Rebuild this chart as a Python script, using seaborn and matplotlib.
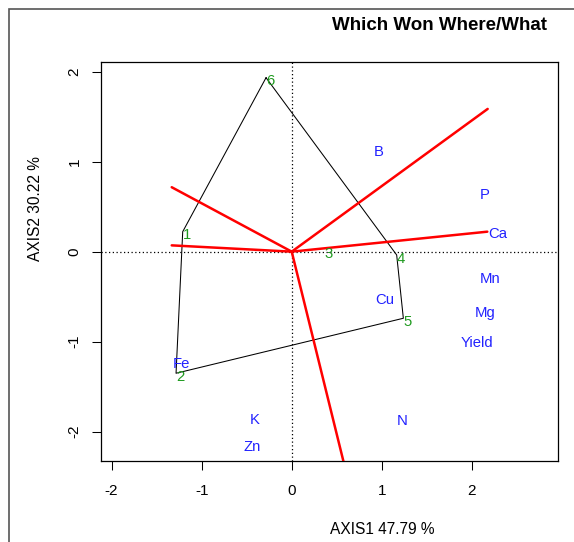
import matplotlib
matplotlib.use("Agg")
import matplotlib.pyplot as plt
from matplotlib.patches import Rectangle
import numpy as np
import pandas as pd
import seaborn as sns

# Genotype scores (polygon vertices / entries)
genotypes = ["1", "2", "3", "4", "5", "6"]
gen_x = [-1.21, -1.284, 0.36, 1.165, 1.239, -0.285]
gen_y = [0.222, -1.351, 0.01, -0.037, -0.74, 1.933]

# Vertex order of the convex hull
hull_order = ["6", "4", "5", "2", "1", "6"]

# Environment / trait scores
envs = ["B", "P", "Ca", "Mn", "Mg", "Yield", "Cu", "N", "Fe", "K", "Zn"]
env_x = [0.968, 2.145, 2.286, 2.201, 2.145, 2.06, 1.035, 1.228, -1.229, -0.407, -0.437]
env_y = [1.111, 0.63, 0.197, -0.307, -0.685, -1.018, -0.537, -1.878, -1.248, -1.87, -2.167]

# Rays from the origin perpendicular to the hull sides
ray_x = [-1.332, -1.332, 2.175, 2.171, 0.619]
ray_y = [0.716, 0.07, 1.586, 0.222, -2.512]

ticks = [-2, -1, 0, 1, 2]
title = "Which Won Where/What"
xlab = "AXIS1 47.79 %"
ylab = "AXIS2 30.22 %"

sns.set_theme(style="ticks")
plt.rcParams["font.family"] = ["Liberation Sans", "DejaVu Sans"]
plt.rcParams["axes.unicode_minus"] = False

W, H = 574, 542
fig = plt.figure(figsize=(W / 100, H / 100), dpi=100)
ax = fig.add_axes([101 / W, 1 - 461 / H, (558.3 - 101) / W, (461 - 62.3) / H])

gen = pd.DataFrame({"name": genotypes, "x": gen_x, "y": gen_y}).set_index("name")
hull = gen.loc[hull_order].reset_index()

rays = pd.DataFrame({
    "ray": np.repeat(np.arange(len(ray_x)), 2),
    "x": np.ravel([[0.0, rx] for rx in ray_x]),
    "y": np.ravel([[0.0, ry] for ry in ray_y]),
})

ax.axhline(0, color="black", lw=0.9, ls=(0, (1, 2)), zorder=1)
ax.axvline(0, color="black", lw=0.9, ls=(0, (1, 2)), zorder=1)

sns.lineplot(data=hull, x="x", y="y", sort=False, estimator=None,
             color="black", lw=0.75, ax=ax, zorder=2)
sns.lineplot(data=rays, x="x", y="y", units="ray", sort=False, estimator=None,
             color="red", lw=1.8, ax=ax, zorder=3, legend=False)

green = "#1f9a1f"
blue = "#2222ff"
for name, row in gen.iterrows():
    ax.annotate(name, (row["x"], row["y"]), xytext=(2.9, -2.6), textcoords="offset points",
                ha="center", va="center", color=green, fontsize=10.7, zorder=4)
for name, x, y in zip(envs, env_x, env_y):
    ax.text(x, y, name, ha="center", va="center", color=blue, fontsize=10.7, zorder=4)

ax.set_xlim(-2.117, 2.959)
ax.set_ylim(-2.326, 2.104)
ax.set_xticks(ticks)
ax.set_yticks(ticks)
ax.set_xticklabels([str(t) for t in ticks])
ax.set_yticklabels([str(t) for t in ticks])
ax.tick_params(direction="out", length=6.5, width=0.75, color="black",
               labelsize=11, pad=10, labelcolor="black")
ax.tick_params(axis="y", labelrotation=90, pad=7.5)
for lab in ax.get_yticklabels():
    lab.set_va("center")
ax.set_xlabel("")
ax.set_ylabel("")
for s in ax.spines.values():
    s.set_visible(True)
    s.set_color("black")
    s.set_linewidth(0.9)

fig.text(440 / W, 1 - 25 / H, title, ha="center", va="center",
         fontsize=13.5, fontweight="bold", color="black")
fig.text(330 / W, 1 - 529 / H, xlab, ha="left", va="center", fontsize=11.2, color="black")
fig.text(35 / W, 1 - 260.7 / H, ylab, ha="center", va="bottom", rotation=90,
         fontsize=11.2, color="black")

fig.add_artist(Rectangle((9 / W, -0.02), 1.0, 1 - 9 / H + 0.02, transform=fig.transFigure,
                         fill=False, ec="#555555", lw=1.2))

fig.savefig("out.png", dpi=100)
